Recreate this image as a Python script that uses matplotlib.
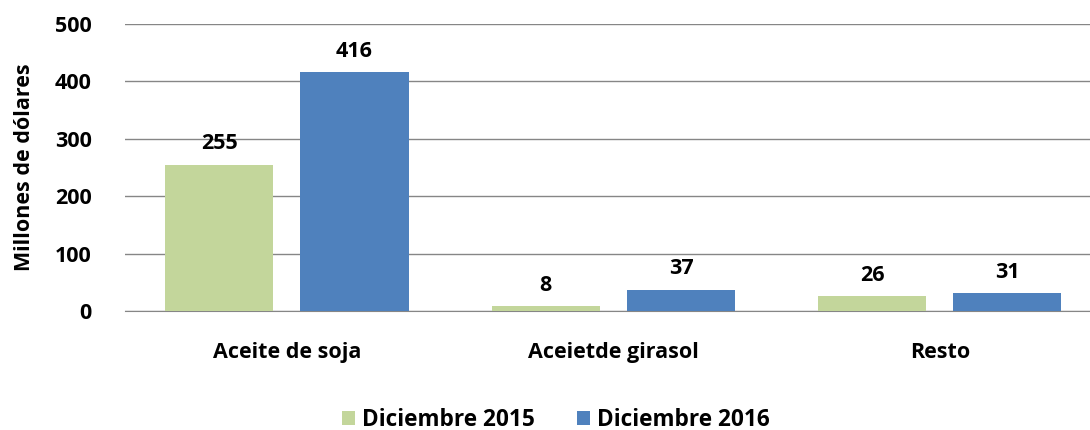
import matplotlib
matplotlib.use("Agg")
import matplotlib.pyplot as plt
import numpy as np

categories = ["Aceite de soja", "Aceietde girasol", "Resto"]
series_names = ["Diciembre 2015", "Diciembre 2016"]
dic_2015 = [255, 8, 26]
dic_2016 = [416, 37, 31]
colors = ["#C3D69B", "#4F81BD"]

plt.rcParams['font.family'] = ['Open Sans', 'DejaVu Sans']
FS = 15.5

fig = plt.figure(figsize=(10.9, 4.3), dpi=100)
ax = fig.add_axes([0.1147, 0.2767, 0.8853, 0.6673])

x = np.arange(len(categories))
w = 0.331
off = 0.207
for vals, name, c, o in [(dic_2015, series_names[0], colors[0], -off),
                         (dic_2016, series_names[1], colors[1], off)]:
    bars = ax.bar(x + o, vals, width=w, color=c, label=name, zorder=3)
    for b, v in zip(bars, vals):
        ax.text(b.get_x() + b.get_width() / 2, v + 18, str(v), ha='center', va='bottom',
                fontsize=FS, fontweight='bold', color='black')

ax.set_ylim(0, 500)
ax.set_yticks(range(0, 501, 100))
ax.set_xlim(-0.496, 2.46)
ax.set_xticks(x)
ax.set_xticklabels(categories, fontsize=FS, fontweight='bold')
for lab in ax.get_yticklabels():
    lab.set_fontsize(FS)
    lab.set_fontweight('bold')
ax.tick_params(axis='y', length=0, pad=24)
ax.tick_params(axis='x', length=0, pad=22)
ax.grid(axis='y', color='#868686', linewidth=1, zorder=0)
for s in ['top', 'right', 'left']:
    ax.spines[s].set_visible(False)
ax.spines['bottom'].set_color('#868686')
ax.set_ylabel("Millones de dólares", fontsize=FS, fontweight='bold', labelpad=14)

leg = fig.legend(loc='center', bbox_to_anchor=(0.51, 0.023), ncol=2, frameon=False,
                 prop={'weight': 'bold', 'size': 16.3},
                 handlelength=0.55, handleheight=0.55, handletextpad=0.3, columnspacing=1.9)

fig.savefig("out.png", dpi=100)
